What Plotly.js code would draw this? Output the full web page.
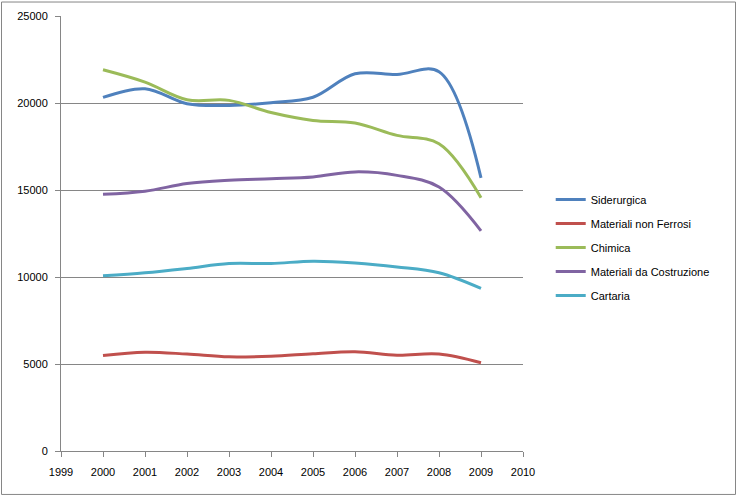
<!DOCTYPE html>
<html>
<head>
<meta charset="utf-8">
<script src="https://cdn.plot.ly/plotly-3.0.1.min.js"></script>
<style>html,body{margin:0;padding:0;background:#fff}#chart{width:738px;height:497px}</style>
</head>
<body>
<div id="chart"></div>
<script>
const years = [2000, 2001, 2002, 2003, 2004, 2005, 2006, 2007, 2008, 2009];
const seriesNames = ["Siderurgica", "Materiali non Ferrosi", "Chimica", "Materiali da Costruzione", "Cartaria"];
const siderurgica = [20320, 20820, 19960, 19860, 20020, 20330, 21680, 21640, 21800, 15700];
const nonFerrosi = [5490, 5680, 5570, 5410, 5450, 5590, 5700, 5510, 5570, 5070];
const chimica = [21910, 21200, 20190, 20150, 19450, 19000, 18850, 18140, 17660, 14560];
const costruzione = [14750, 14930, 15370, 15560, 15650, 15750, 16040, 15840, 15170, 12650];
const cartaria = [10065, 10240, 10490, 10775, 10775, 10910, 10810, 10580, 10240, 9340];
const xTicks = [1999, 2000, 2001, 2002, 2003, 2004, 2005, 2006, 2007, 2008, 2009, 2010];
const yTicks = [0, 5000, 10000, 15000, 20000, 25000];

const colors = ["#4F81BD", "#C0504D", "#9BBB59", "#8064A2", "#4BACC6"];
const values = [siderurgica, nonFerrosi, chimica, costruzione, cartaria];

const traces = values.map((v, i) => ({
  type: "scatter",
  mode: "lines",
  x: years,
  y: v,
  name: seriesNames[i],
  legendgroup: "g" + i,
  line: {color: colors[i], width: 3, shape: "spline", smoothing: 1}
}));

const font = {family: "Liberation Sans, Arial, sans-serif", size: 11, color: "#000"};

const layout = {
  width: 738,
  height: 497,
  margin: {l: 61, r: 215, t: 15.5, b: 46, pad: 0},
  paper_bgcolor: "#fff",
  plot_bgcolor: "#fff",
  font: font,
  showlegend: true,
  legend: {
    x: 1.06, y: 0.468, xanchor: "left", yanchor: "middle",
    font: font, tracegroupgap: 5, bgcolor: "rgba(0,0,0,0)"
  },
  xaxis: {
    range: [1999, 2010],
    tickmode: "array",
    tickvals: xTicks,
    ticktext: xTicks.map(String),
    showgrid: false,
    zeroline: false,
    showline: true,
    linecolor: "#868686",
    linewidth: 1,
    ticks: "outside",
    ticklen: 5,
    tickcolor: "#868686",
    ticklabelstandoff: 6,
    fixedrange: true
  },
  yaxis: {
    range: [0, 25000],
    tickmode: "array",
    tickvals: yTicks,
    ticktext: yTicks.map(String),
    showgrid: true,
    gridcolor: "#868686",
    gridwidth: 1,
    zeroline: false,
    showline: true,
    linecolor: "#868686",
    linewidth: 1,
    ticks: "outside",
    ticklen: 5,
    tickcolor: "#868686",
    ticklabelstandoff: 5,
    fixedrange: true
  },
  shapes: [{
    type: "rect", xref: "paper", yref: "paper",
    x0: (1.5 - 61) / 462, x1: (735.5 - 61) / 462,
    y0: (451 - 494.5) / 435.5, y1: (451 - 1.5) / 435.5,
    line: {color: "#868686", width: 1}, layer: "below"
  }]
};

Plotly.newPlot("chart", traces, layout, {displayModeBar: false, staticPlot: true});
</script>
</body>
</html>
